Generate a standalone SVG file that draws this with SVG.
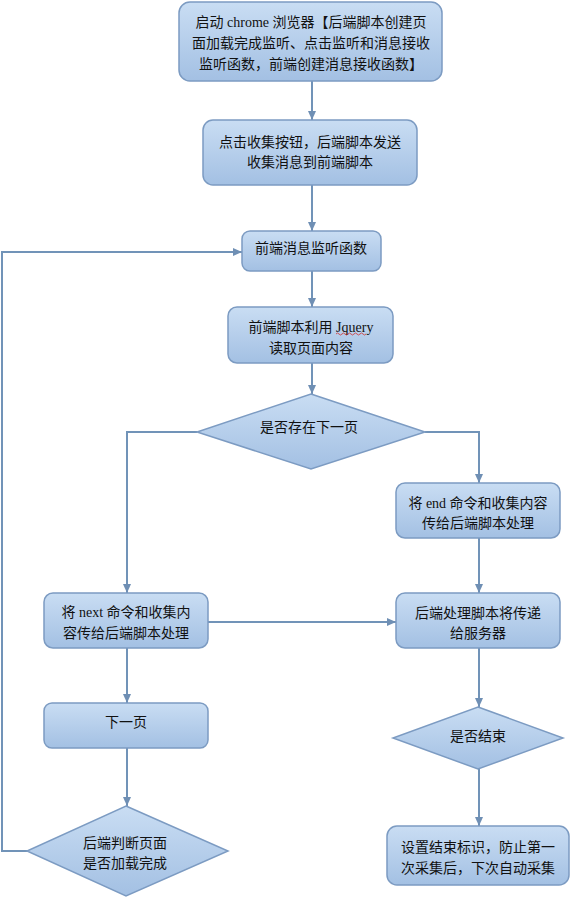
<svg xmlns="http://www.w3.org/2000/svg" width="570" height="897" viewBox="0 0 570 897">
<defs>
<linearGradient id="g" x1="0" y1="0" x2="0" y2="1">
<stop offset="0" stop-color="#c9ddf3"/>
<stop offset="1" stop-color="#a3c0e3"/>
</linearGradient>
<marker id="arr" markerWidth="10" markerHeight="10" refX="9" refY="5" orient="auto" markerUnits="userSpaceOnUse">
<path d="M0,1 L9,5 L0,9 z" fill="#6f8fb4"/>
</marker>
</defs>
<style>
.n{fill:url(#g);stroke:#7c9bc2;stroke-width:1.5}
.c{fill:none;stroke:#7193b8;stroke-width:2;marker-end:url(#arr)}
.c2{fill:none;stroke:#7193b8;stroke-width:2}
text{font-family:"Liberation Serif","Noto Sans CJK SC",serif;font-size:14px;fill:#111;text-anchor:middle;dominant-baseline:central}
</style>
<rect width="570" height="897" fill="#ffffff"/>
<g id="connectors">
<path class="c" d="M312,81 V120"/>
<path class="c" d="M312,185 V231"/>
<path class="c" d="M312,271 V307"/>
<path class="c" d="M312,363 V394"/>
<path class="c" d="M197,432 H127 V593"/>
<path class="c" d="M425,432 H479 V483"/>
<path class="c" d="M479,538 V593"/>
<path class="c" d="M208,622 H396"/>
<path class="c" d="M127,648 V703"/>
<path class="c" d="M127,748 V806"/>
<path class="c" d="M479,648 V707"/>
<path class="c" d="M479,769 V826"/>
<path class="c" d="M27,851 H2 V252 H242"/>
</g>
<g id="n1">
<rect class="n" x="179" y="2" width="263" height="79" rx="11"/>
<text x="311" y="22">启动 chrome 浏览器【后端脚本创建页</text>
<text x="311" y="43">面加载完成监听、点击监听和消息接收</text>
<text x="311" y="64">监听函数，前端创建消息接收函数】</text>
</g>
<g id="n2">
<rect class="n" x="203" y="120" width="214" height="65" rx="10"/>
<text x="310" y="142">点击收集按钮，后端脚本发送</text>
<text x="310" y="162">收集消息到前端脚本</text>
</g>
<g id="n3">
<rect class="n" x="242" y="231" width="139" height="40" rx="8"/>
<text x="311" y="248">前端消息监听函数</text>
</g>
<g id="n4">
<rect class="n" x="228" y="307" width="165" height="56" rx="9"/>
<text x="311" y="327">前端脚本利用 Jquery</text>
<text x="311" y="348">读取页面内容</text>
<path d="M336,334 q1.5,-2 3,0 t3,0 t3,0 t3,0 t3,0 t3,0 t3,0 t3,0 t3,0 t3,0" fill="none" stroke="#d03030" stroke-width="0.8"/>
</g>
<g id="d1">
<polygon class="n" points="311,394 425,432 311,469 197,432"/>
<text x="309" y="427">是否存在下一页</text>
</g>
<g id="n5">
<rect class="n" x="44" y="593" width="164" height="55" rx="9"/>
<text x="126" y="612">将 next 命令和收集内</text>
<text x="126" y="633">容传给后端脚本处理</text>
</g>
<g id="n6">
<rect class="n" x="396" y="483" width="164" height="55" rx="9"/>
<text x="478" y="503">将 end 命令和收集内容</text>
<text x="478" y="523">传给后端脚本处理</text>
</g>
<g id="n7">
<rect class="n" x="396" y="593" width="164" height="55" rx="9"/>
<text x="478" y="613">后端处理脚本将传递</text>
<text x="478" y="633">给服务器</text>
</g>
<g id="n8">
<rect class="n" x="44" y="703" width="164" height="45" rx="8"/>
<text x="126" y="722">下一页</text>
</g>
<g id="d2">
<polygon class="n" points="126,806 228,851 126,896 27,851"/>
<text x="125" y="843">后端判断页面</text>
<text x="125" y="863">是否加载完成</text>
</g>
<g id="d3">
<polygon class="n" points="478,707 563,738 478,769 393,738"/>
<text x="478" y="736">是否结束</text>
</g>
<g id="n9">
<rect class="n" x="387" y="826" width="182" height="59" rx="10"/>
<text x="478" y="847">设置结束标识，防止第一</text>
<text x="478" y="868">次采集后，下次自动采集</text>
</g>
</svg>
